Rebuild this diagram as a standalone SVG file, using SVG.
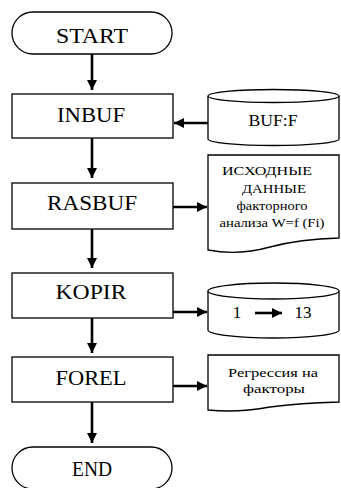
<svg xmlns="http://www.w3.org/2000/svg" width="341" height="488" viewBox="0 0 341 488">
<defs>
<style>
.shape{fill:#fff;stroke:#000;stroke-width:1.3}
text{font-family:'Liberation Serif','DejaVu Serif','Times New Roman',serif;fill:#000;text-anchor:middle}
.big{font-size:22px}
.mid{font-size:16px}
.sm{font-size:13px}
.conn{stroke:#000;stroke-width:2.6;fill:none}
</style>
<marker id="ah" viewBox="0 0 10 10" refX="10" refY="5" markerWidth="4" markerHeight="4" markerUnits="strokeWidth" orient="auto">
<path d="M0,0 L10,5 L0,10 Z" fill="#000"/>
</marker>
</defs>
<rect width="341" height="488" fill="#fff"/>
<g id="start">
<rect class="shape" x="12" y="12" width="160" height="42" rx="21" ry="21"/>
<text class="big" x="92" y="43" textLength="72" lengthAdjust="spacingAndGlyphs">START</text>
</g>
<g id="inbuf">
<rect class="shape" x="12" y="94" width="161" height="44"/>
<text class="big" x="91" y="122" textLength="68" lengthAdjust="spacingAndGlyphs">INBUF</text>
</g>
<g id="buff">
<path class="shape" d="M208,96 V139 A65.5,6.5 0 0 0 339,139 V96"/>
<ellipse class="shape" cx="273.5" cy="96" rx="65.5" ry="6.5"/>
<text class="mid" x="273" y="126" textLength="49" lengthAdjust="spacingAndGlyphs">BUF:F</text>
</g>
<g id="rasbuf">
<rect class="shape" x="12" y="183" width="161" height="46"/>
<text class="big" x="92" y="210" textLength="90" lengthAdjust="spacingAndGlyphs">RASBUF</text>
</g>
<g id="ishodnye">
<path class="shape" d="M208,155 H339 V238 Q300,239 270,247 Q238,256 208,250 Z"/>
<text class="sm" x="267" y="175" textLength="90" lengthAdjust="spacingAndGlyphs">ИСХОДНЫЕ</text>
<text class="sm" x="274" y="193" textLength="64" lengthAdjust="spacingAndGlyphs">ДАННЫЕ</text>
<text class="sm" x="272" y="210" textLength="71" lengthAdjust="spacingAndGlyphs">факторного</text>
<text class="sm" x="272" y="227" textLength="105" lengthAdjust="spacingAndGlyphs">анализа W=f (Fi)</text>
</g>
<g id="kopir">
<rect class="shape" x="12" y="273" width="161" height="45"/>
<text class="big" x="91" y="299" textLength="71" lengthAdjust="spacingAndGlyphs">KOPIR</text>
</g>
<g id="file113">
<path class="shape" d="M208,291 V330 A65.5,8 0 0 0 339,330 V291"/>
<ellipse class="shape" cx="273.5" cy="291" rx="65.5" ry="8"/>
<text x="237" y="318" font-size="17">1</text>
<text x="303" y="318" font-size="17">13</text>
<line class="conn" x1="255" y1="313" x2="282" y2="313" stroke-width="2.4" marker-end="url(#ah)"/>
</g>
<g id="forel">
<rect class="shape" x="12" y="357" width="161" height="45"/>
<text class="big" x="91" y="385" textLength="71" lengthAdjust="spacingAndGlyphs">FOREL</text>
</g>
<g id="regress">
<path class="shape" d="M208,355 H339 V402 Q300,403 270,407 Q238,413 208,410 Z"/>
<text class="sm" x="273" y="377" textLength="90" lengthAdjust="spacingAndGlyphs">Регрессия на</text>
<text class="sm" x="274" y="393" textLength="62" lengthAdjust="spacingAndGlyphs">факторы</text>
</g>
<g id="end">
<rect class="shape" x="12" y="447" width="160" height="42" rx="21" ry="21"/>
<text class="big" x="92" y="476" textLength="40" lengthAdjust="spacingAndGlyphs">END</text>
</g>
<g id="connectors">
<line class="conn" x1="92" y1="54" x2="92" y2="90" marker-end="url(#ah)"/>
<line class="conn" x1="208" y1="123" x2="174" y2="123" marker-end="url(#ah)"/>
<line class="conn" x1="92" y1="138" x2="92" y2="178" marker-end="url(#ah)"/>
<line class="conn" x1="173" y1="207" x2="207" y2="207" marker-end="url(#ah)"/>
<line class="conn" x1="92" y1="229" x2="92" y2="268" marker-end="url(#ah)"/>
<line class="conn" x1="173" y1="312" x2="207" y2="312" marker-end="url(#ah)"/>
<line class="conn" x1="92" y1="318" x2="92" y2="353" marker-end="url(#ah)"/>
<line class="conn" x1="173" y1="386" x2="207" y2="386" marker-end="url(#ah)"/>
<line class="conn" x1="92" y1="402" x2="92" y2="443" marker-end="url(#ah)"/>
</g>
</svg>
